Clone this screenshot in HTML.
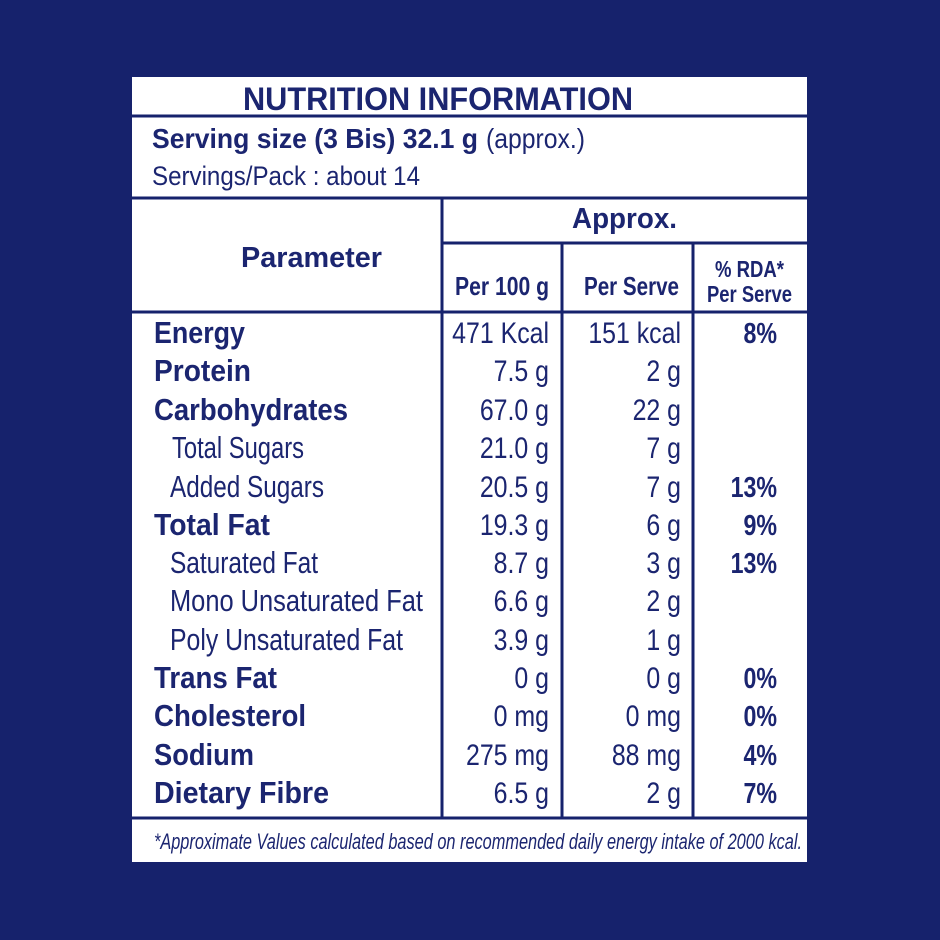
<!DOCTYPE html>
<html><head><meta charset="utf-8"><style>
html,body{margin:0;padding:0;background:#16226c;}
svg{display:block}
text{font-family:"Liberation Sans",sans-serif;fill:#1b2570}
.b{font-weight:bold}
</style></head><body>
<svg width="940" height="940" viewBox="0 0 940 940" xmlns="http://www.w3.org/2000/svg">
<rect x="0" y="0" width="940" height="940" fill="#16226c"/>
<rect x="132" y="77" width="675" height="785" fill="#ffffff"/>
<g stroke="#16226c" stroke-width="3" fill="none">
<line x1="132" y1="116" x2="807" y2="116"/>
<line x1="132" y1="198" x2="807" y2="198"/>
<line x1="442" y1="243" x2="807" y2="243"/>
<line x1="132" y1="312" x2="807" y2="312"/>
<line x1="132" y1="818" x2="807" y2="818"/>
<line x1="442" y1="198" x2="442" y2="818"/>
<line x1="562" y1="243" x2="562" y2="818"/>
<line x1="693" y1="243" x2="693" y2="818"/>
</g>
<text class="b" x="243" y="110" font-size="32" textLength="390" lengthAdjust="spacingAndGlyphs">NUTRITION INFORMATION</text>
<text class="b" x="152" y="148" font-size="28" textLength="326" lengthAdjust="spacingAndGlyphs">Serving size (3 Bis) 32.1 g</text>
<text x="486" y="148" font-size="28" textLength="99" lengthAdjust="spacingAndGlyphs">(approx.)</text>
<text x="152" y="185" font-size="27" textLength="268" lengthAdjust="spacingAndGlyphs">Servings/Pack : about 14</text>
<text class="b" x="241" y="267" font-size="29" textLength="141" lengthAdjust="spacingAndGlyphs">Parameter</text>
<text class="b" x="572" y="228" font-size="29" textLength="105" lengthAdjust="spacingAndGlyphs">Approx.</text>
<text class="b" x="455" y="295" font-size="26" textLength="94" lengthAdjust="spacingAndGlyphs">Per 100 g</text>
<text class="b" x="584" y="295" font-size="26" textLength="95" lengthAdjust="spacingAndGlyphs">Per Serve</text>
<text class="b" x="715" y="277" font-size="23" textLength="69" lengthAdjust="spacingAndGlyphs">% RDA*</text>
<text class="b" x="707" y="302" font-size="23" textLength="85" lengthAdjust="spacingAndGlyphs">Per Serve</text>

<g font-size="31">
<text class="b" x="154" y="343" textLength="91" lengthAdjust="spacingAndGlyphs">Energy</text>
<text class="b" x="154" y="381" textLength="97" lengthAdjust="spacingAndGlyphs">Protein</text>
<text class="b" x="154" y="420" textLength="194" lengthAdjust="spacingAndGlyphs">Carbohydrates</text>
<text x="172" y="458" textLength="132" lengthAdjust="spacingAndGlyphs">Total Sugars</text>
<text x="170" y="497" textLength="154" lengthAdjust="spacingAndGlyphs">Added Sugars</text>
<text class="b" x="154" y="535" textLength="116" lengthAdjust="spacingAndGlyphs">Total Fat</text>
<text x="170" y="573" textLength="148" lengthAdjust="spacingAndGlyphs">Saturated Fat</text>
<text x="170" y="611" textLength="253" lengthAdjust="spacingAndGlyphs">Mono Unsaturated Fat</text>
<text x="170" y="650" textLength="233" lengthAdjust="spacingAndGlyphs">Poly Unsaturated Fat</text>
<text class="b" x="154" y="688" textLength="123" lengthAdjust="spacingAndGlyphs">Trans Fat</text>
<text class="b" x="154" y="726" textLength="152" lengthAdjust="spacingAndGlyphs">Cholesterol</text>
<text class="b" x="154" y="765" textLength="100" lengthAdjust="spacingAndGlyphs">Sodium</text>
<text class="b" x="154" y="803" textLength="175" lengthAdjust="spacingAndGlyphs">Dietary Fibre</text>
</g>

<g font-size="30" text-anchor="end">
<text transform="translate(549,343) scale(.83,1)">471 Kcal</text>
<text transform="translate(549,381) scale(.83,1)">7.5 g</text>
<text transform="translate(549,420) scale(.83,1)">67.0 g</text>
<text transform="translate(549,458) scale(.83,1)">21.0 g</text>
<text transform="translate(549,497) scale(.83,1)">20.5 g</text>
<text transform="translate(549,535) scale(.83,1)">19.3 g</text>
<text transform="translate(549,573) scale(.83,1)">8.7 g</text>
<text transform="translate(549,611) scale(.83,1)">6.6 g</text>
<text transform="translate(549,650) scale(.83,1)">3.9 g</text>
<text transform="translate(549,688) scale(.83,1)">0 g</text>
<text transform="translate(549,726) scale(.83,1)">0 mg</text>
<text transform="translate(549,765) scale(.83,1)">275 mg</text>
<text transform="translate(549,803) scale(.83,1)">6.5 g</text>

<text transform="translate(681,343) scale(.83,1)">151 kcal</text>
<text transform="translate(681,381) scale(.83,1)">2 g</text>
<text transform="translate(681,420) scale(.83,1)">22 g</text>
<text transform="translate(681,458) scale(.83,1)">7 g</text>
<text transform="translate(681,497) scale(.83,1)">7 g</text>
<text transform="translate(681,535) scale(.83,1)">6 g</text>
<text transform="translate(681,573) scale(.83,1)">3 g</text>
<text transform="translate(681,611) scale(.83,1)">2 g</text>
<text transform="translate(681,650) scale(.83,1)">1 g</text>
<text transform="translate(681,688) scale(.83,1)">0 g</text>
<text transform="translate(681,726) scale(.83,1)">0 mg</text>
<text transform="translate(681,765) scale(.83,1)">88 mg</text>
<text transform="translate(681,803) scale(.83,1)">2 g</text>
</g>
<g font-size="29" text-anchor="end" font-weight="bold">
<text transform="translate(777,343) scale(.8,1)">8%</text>
<text transform="translate(777,497) scale(.8,1)">13%</text>
<text transform="translate(777,535) scale(.8,1)">9%</text>
<text transform="translate(777,573) scale(.8,1)">13%</text>
<text transform="translate(777,688) scale(.8,1)">0%</text>
<text transform="translate(777,726) scale(.8,1)">0%</text>
<text transform="translate(777,765) scale(.8,1)">4%</text>
<text transform="translate(777,803) scale(.8,1)">7%</text>
</g>
<text x="154" y="849" font-size="22" font-style="italic" textLength="648" lengthAdjust="spacingAndGlyphs">*Approximate Values calculated based on recommended daily energy intake of 2000 kcal.</text>
</svg>
</body></html>
